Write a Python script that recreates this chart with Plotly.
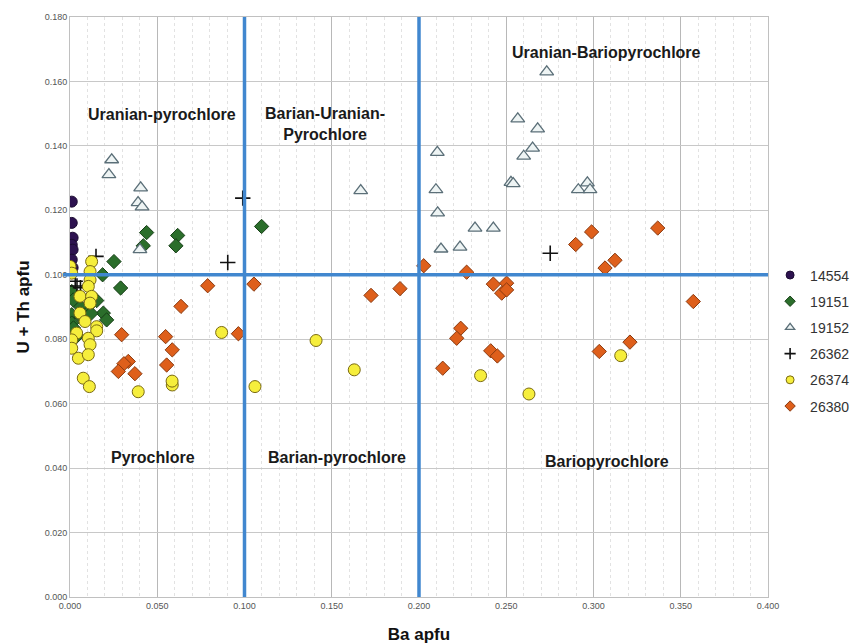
import plotly.graph_objects as go

# ---- data ----
s14554_x = [0.001, 0.001, 0.0015, 0.001, 0.0015, 0.001, 0.0015]
s14554_y = [0.1227, 0.1161, 0.1115, 0.1093, 0.1078, 0.1047, 0.1022]

s19151_x = [0.0439, 0.0420, 0.0617, 0.0607, 0.1098, 0.0252, 0.0187, 0.0290, 0.001, 0.0153,
            0.0105, 0.0191, 0.0210, 0.001, 0.001, 0.0063, 0.0057, 0.0019, 0.002, 0.012, 0.004]
s19151_y = [0.1131, 0.1090, 0.1122, 0.1090, 0.1150, 0.1041, 0.1000, 0.0959, 0.0948, 0.0920,
            0.0902, 0.0881, 0.0860, 0.0876, 0.0850, 0.0870, 0.0902, 0.0922, 0.0835, 0.0880, 0.0810]

s19152_x = [0.0239, 0.0223, 0.0405, 0.0390, 0.0413, 0.0401, 0.1666, 0.2732, 0.2566, 0.2680,
            0.2651, 0.2600, 0.2105, 0.2527, 0.2540, 0.2097, 0.2913, 0.2965, 0.2980, 0.2107,
            0.2321, 0.2426, 0.2126, 0.2235]
s19152_y = [0.1357, 0.1311, 0.1270, 0.1224, 0.1211, 0.1078, 0.1261, 0.1630, 0.1484, 0.1453,
            0.1393, 0.1368, 0.1380, 0.1287, 0.1283, 0.1264, 0.1264, 0.1285, 0.1264, 0.1192,
            0.1145, 0.1145, 0.1080, 0.1086]

s26362_x = [0.2752, 0.0990, 0.0904, 0.0149, 0.003, 0.006, 0.004]
s26362_y = [0.1067, 0.1238, 0.1038, 0.1057, 0.0980, 0.0960, 0.0965]

s26374_x = [0.000, 0.001, 0.0124, 0.0115, 0.0115, 0.0105, 0.0057, 0.0124, 0.0115, 0.0057,
            0.0086, 0.0153, 0.0153, 0.0038, 0.0010, 0.0105, 0.0115, 0.0010, 0.0048, 0.0105,
            0.0076, 0.0111, 0.0391, 0.0586, 0.0585, 0.0869, 0.1060, 0.1410, 0.1629, 0.2353,
            0.2630, 0.3156]
s26374_y = [0.1026, 0.1005, 0.1041, 0.1010, 0.0984, 0.0964, 0.0933, 0.0933, 0.0912, 0.0881,
            0.0855, 0.0839, 0.0826, 0.0819, 0.0798, 0.0803, 0.0783, 0.0772, 0.0741, 0.0752,
            0.0679, 0.0653, 0.0637, 0.0658, 0.0670, 0.0821, 0.0653, 0.0796, 0.0705, 0.0687,
            0.0630, 0.0749]

s26380_x = [0.0789, 0.0636, 0.0296, 0.0548, 0.0965, 0.0586, 0.0554, 0.0334, 0.0309, 0.0277,
            0.0372, 0.1054, 0.1725, 0.1891, 0.2027, 0.2273, 0.2898, 0.3066, 0.2426, 0.2502,
            0.2474, 0.2502, 0.2239, 0.2216, 0.2411, 0.2449, 0.2136, 0.3033, 0.2989, 0.3368,
            0.3123, 0.3572, 0.3209]
s26380_y = [0.0966, 0.0902, 0.0814, 0.0808, 0.0817, 0.0767, 0.0720, 0.0731, 0.0724, 0.0700,
            0.0693, 0.0971, 0.0936, 0.0957, 0.1028, 0.1008, 0.1094, 0.1021, 0.0971, 0.0974,
            0.0943, 0.0953, 0.0834, 0.0803, 0.0764, 0.0748, 0.0710, 0.0762, 0.1133, 0.1145,
            0.1045, 0.0917, 0.0791]

field_labels = ["Uranian-pyrochlore", "Barian-Uranian-<br>Pyrochlore", "Uranian-Bariopyrochlore",
                "Pyrochlore", "Barian-pyrochlore", "Bariopyrochlore"]
field_x = [0.0527, 0.146, 0.3077, 0.0476, 0.153, 0.3077]
field_y = [0.1497, 0.1469, 0.1690, 0.0432, 0.0432, 0.0419]

ba_limits = [0.1, 0.2]
ut_limit = 0.1

series = [
    ("14554", s14554_x, s14554_y, dict(symbol="circle", color="#2d1250", line=dict(color="#1a0a30", width=1)), 11),
    ("19151", s19151_x, s19151_y, dict(symbol="diamond", color="#2b6e2b", line=dict(color="#173f17", width=1)), 11),
    ("19152", s19152_x, s19152_y, dict(symbol="triangle-up", color="#eef4f4", line=dict(color="#5b6f78", width=1.3)), 12),
    ("26362", s26362_x, s26362_y, dict(symbol="cross-thin", color="#111111", line=dict(color="#111111", width=1.6)), 11),
    ("26374", s26374_x, s26374_y, dict(symbol="circle", color="#f6ee3c", line=dict(color="#7a6a12", width=1)), 12),
    ("26380", s26380_x, s26380_y, dict(symbol="diamond", color="#de5f1b", line=dict(color="#8a3a10", width=1)), 11),
]

fig = go.Figure()
for name, xs, ys, mk, sz in series:
    fig.add_trace(go.Scatter(x=xs, y=ys, mode="markers", name=name, showlegend=False,
                             legendgroup=name, marker=dict(size=sz, **mk)))
for name, xs, ys, mk, sz in series:
    fig.add_trace(go.Scatter(x=[None], y=[None], mode="markers", name=name, showlegend=True,
                             legendgroup=name, marker=dict(size=8, **mk)))

blue = "#4187cf"
for bx in ba_limits:
    fig.add_shape(type="line", xref="x", yref="paper", x0=bx, x1=bx, y0=0, y1=1,
                  line=dict(color=blue, width=3.5), layer="above")
fig.add_shape(type="line", xref="paper", yref="y", x0=-0.01, x1=1, y0=ut_limit, y1=ut_limit,
              line=dict(color=blue, width=3.5), layer="above")

for t, ax, ay in zip(field_labels, field_x, field_y):
    fig.add_annotation(x=ax, y=ay, text="<b>" + t + "</b>", showarrow=False, align="center",
                       font=dict(family="Liberation Sans", size=16, color="#1a1a1a"))

fig.update_layout(
    width=853, height=644,
    margin=dict(l=70, r=85, t=17, b=47, autoexpand=False),
    paper_bgcolor="white", plot_bgcolor="white",
    font=dict(family="Liberation Sans", color="#333333"),
    showlegend=True,
    legend=dict(x=1.003, y=0.582, xanchor="left", yanchor="top",
                font=dict(size=14, color="#333333", family="Liberation Sans"),
                bgcolor="rgba(0,0,0,0)", tracegroupgap=5, itemwidth=30),
    xaxis=dict(range=[0, 0.4], dtick=0.05, tick0=0, tickformat=".3f", automargin=False,
               showgrid=True, gridcolor="#b8b8b8", gridwidth=1,
               minor=dict(dtick=0.01, showgrid=True, gridcolor="#e2e2e2", griddash="dot"),
               zeroline=False, showline=True, linecolor="#c0c0c0", mirror=True,
               ticks="", tickfont=dict(size=9, color="#555555"),
               title=dict(text="<b>Ba apfu</b>", font=dict(size=17, color="#111111"), standoff=18)),
    yaxis=dict(range=[0, 0.18], dtick=0.02, tick0=0, tickformat=".3f", automargin=False,
               showgrid=True, gridcolor="#c8c8c8", gridwidth=1,
               zeroline=False, showline=True, linecolor="#c0c0c0", mirror=True,
               ticks="", tickfont=dict(size=9, color="#555555"),
               title=dict(text="<b>U + Th apfu</b>", font=dict(size=17, color="#111111"), standoff=10)),
)

fig.write_html("out.html", config={"displayModeBar": False},
               post_script="document.body.style.margin='0';document.body.style.overflow='hidden';")
